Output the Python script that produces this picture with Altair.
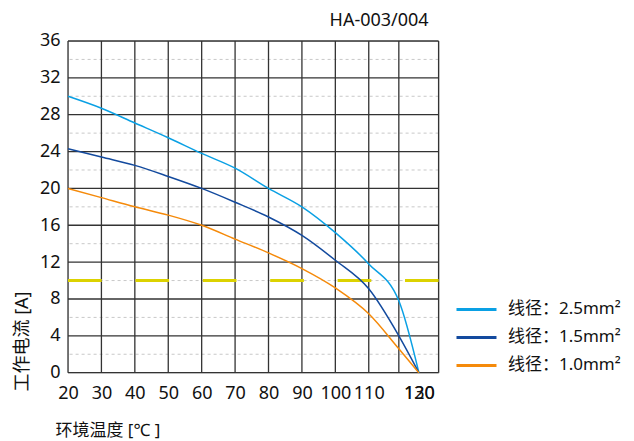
import altair as alt
import pandas as pd

# ---- data ----
temps = [20, 30, 40, 50, 60, 70, 80, 90, 100, 110, 119, 125]
i_25 = [30.0, 28.7, 27.1, 25.5, 23.8, 22.2, 20.0, 18.0, 15.2, 11.8, 7.8, 0.0]
i_15 = [24.3, 23.4, 22.5, 21.3, 20.0, 18.5, 16.9, 14.9, 12.2, 9.1, 4.0, 0.0]
i_10 = [20.0, 19.0, 18.0, 17.1, 16.0, 14.5, 13.0, 11.3, 9.2, 6.4, 2.6, 0.0]
series = ["线径：2.5mm²", "线径：1.5mm²", "线径：1.0mm²"]
colors = ["#0aa0e4", "#134a9e", "#f58a0a"]

x_grid = [20, 30, 40, 50, 60, 70, 80, 90, 100, 110, 119, 130.9]
y_major = [0, 4, 8, 12, 16, 20, 24, 28, 32, 36]
y_minor = [2, 6, 10, 14, 18, 22, 26, 30, 34]
x_ticks = [20, 30, 40, 50, 60, 70, 80, 90, 100, 110, 125, 125.01]
limit_current = 10

FONT = "Noto Sans, Noto Sans CJK SC"
FS = 18

rows = []
for name, vals in zip(series, [i_25, i_15, i_10]):
    for t, v in zip(temps, vals):
        rows.append({"t": t, "i": v, "s": name})
df = pd.DataFrame(rows)

xs = alt.Scale(domain=[20, 130.9], nice=False, zero=False)
ys = alt.Scale(domain=[0, 36], nice=False)

x_axis = alt.Axis(values=x_ticks, grid=False, domain=False, ticks=False,
                  labelFontSize=FS, labelColor="#111", labelPadding=12,
                  labelOverlap=False, labelFlush=False, labelFont=FONT,
                  labelExpr="datum.value == 125 ? '120' : (datum.value > 125 ? '130' : datum.label)",
                  title="环境温度 [℃ ]", titleFontSize=FS - 1, titleFontWeight="normal",
                  titleColor="#111", titleAnchor="start", titleAlign="left", titleFont=FONT,
                  titleX=-13, titleY=58, titleBaseline="middle")
y_axis = alt.Axis(values=y_major, grid=False, domain=False, ticks=False,
                  labelFontSize=FS, labelColor="#111", labelPadding=8,
                  labelOverlap=False, labelFlush=False, labelFont=FONT,
                  title="工作电流 [A]", titleFontSize=FS, titleFontWeight="normal",
                  titleColor="#111", titleX=-46, titleY=300, titleAngle=270,
                  titleBaseline="middle", titleFont=FONT)

X = lambda f: alt.X(f, scale=xs, axis=x_axis)
Y = lambda f: alt.Y(f, scale=ys, axis=y_axis)

minor = alt.Chart(pd.DataFrame({"y": y_minor})).mark_rule(
    color="#c8c8c8", strokeDash=[3, 3], strokeWidth=1
).encode(y=Y("y:Q"))

vgrid = alt.Chart(pd.DataFrame({"x": x_grid})).mark_rule(
    color="#333", strokeWidth=1.3
).encode(x=X("x:Q"))

hgrid = alt.Chart(pd.DataFrame({"y": y_major})).mark_rule(
    color="#333", strokeWidth=1.3
).encode(y=Y("y:Q"))

limit = alt.Chart(pd.DataFrame({"y": [limit_current], "x1": [20], "x2": [130.9]})).mark_rule(
    color="#dcd200", strokeWidth=3, strokeDash=[33.7, 33.7]
).encode(x=X("x1:Q"), x2="x2:Q", y=Y("y:Q"))

lines = alt.Chart(df).mark_line(strokeWidth=1.5, interpolate="monotone").encode(
    x=X("t:Q"),
    y=Y("i:Q"),
    color=alt.Color("s:N", sort=series,
                    scale=alt.Scale(domain=series, range=colors),
                    legend=alt.Legend(title=None, orient="none", legendX=400, legendY=260,
                                      symbolType="M-4,0H4", symbolSize=100,
                                      symbolStrokeWidth=3, labelFontSize=17,
                                      labelColor="#111", labelOffset=23,
                                      rowPadding=10, labelFont=FONT)),
)

chart = alt.layer(minor, vgrid, hgrid, limit, lines).properties(
    width=370.6, height=331.7,
    autosize=alt.AutoSizeParams(type="none"),
    padding={"left": 60, "top": 33, "right": 187, "bottom": 76},
    title=alt.TitleParams("HA-003/004", anchor="end", frame="group", fontSize=FS,
                          fontWeight="normal", color="#111", dx=-10, offset=2, font=FONT),
).configure_view(stroke=None).configure(font=FONT)

chart.save("out.html", embed_options={"renderer": "svg", "actions": False})
